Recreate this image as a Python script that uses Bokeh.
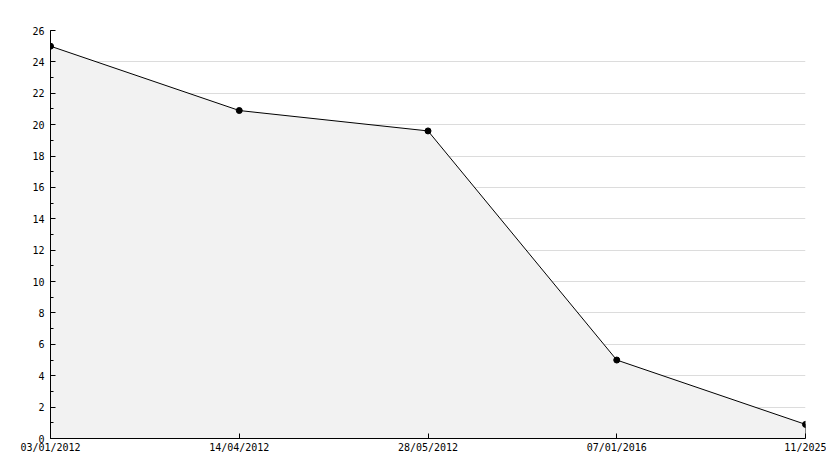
from bokeh.plotting import figure
from bokeh.models import FixedTicker, SingleIntervalTicker, Range1d, ColumnDataSource
from bokeh.embed import file_html
from bokeh.resources import INLINE

labels = ["03/01/2012", "14/04/2012", "28/05/2012", "07/01/2016", "11/2025"]
values = [25.0, 20.9, 19.6, 5.0, 0.9]
xs = list(range(len(labels)))

src = ColumnDataSource(dict(x=xs, y=values, base=[0] * len(values)))

p = figure(width=826, height=460, output_backend="svg", toolbar_location=None,
           x_range=Range1d(0, len(labels) - 1), y_range=Range1d(0, 26),
           min_border_left=50, min_border_right=21, min_border_top=30, min_border_bottom=22)
p.outline_line_color = None
p.background_fill_color = "white"

p.varea(x="x", y1="base", y2="y", source=src, fill_color="#f2f2f2")
# right edge of the filled area
p.segment(x0=[xs[-1]], y0=[0], x1=[xs[-1]], y1=[values[-1]], line_color="black", line_width=1)
p.line(x="x", y="y", source=src, line_color="black", line_width=1)
p.scatter(x="x", y="y", source=src, size=6, marker="circle", fill_color="black", line_color="black")

font = "DejaVu Sans Mono"

p.xaxis.ticker = FixedTicker(ticks=xs)
p.xaxis.major_label_overrides = {i: l for i, l in enumerate(labels)}
p.yaxis.ticker = SingleIntervalTicker(interval=2, num_minor_ticks=2)

for ax in (p.xaxis, p.yaxis):
    ax.axis_line_color = "black"
    ax.axis_line_width = 1
    ax.major_tick_in = 5
    ax.major_tick_out = 0
    ax.minor_tick_in = 3
    ax.minor_tick_out = 0
    ax.major_tick_line_color = "black"
    ax.minor_tick_line_color = "black"
    ax.major_label_text_font = font
    ax.major_label_text_font_size = "10px"
    ax.major_label_text_color = "black"
p.xaxis.minor_tick_line_color = None
p.yaxis.major_label_standoff = 6
p.xaxis.major_label_standoff = 3

p.xgrid.grid_line_color = None
p.ygrid.grid_line_color = "#dcdcdc"
p.ygrid.grid_line_width = 1

open("out.html", "w").write(file_html(p, INLINE))
